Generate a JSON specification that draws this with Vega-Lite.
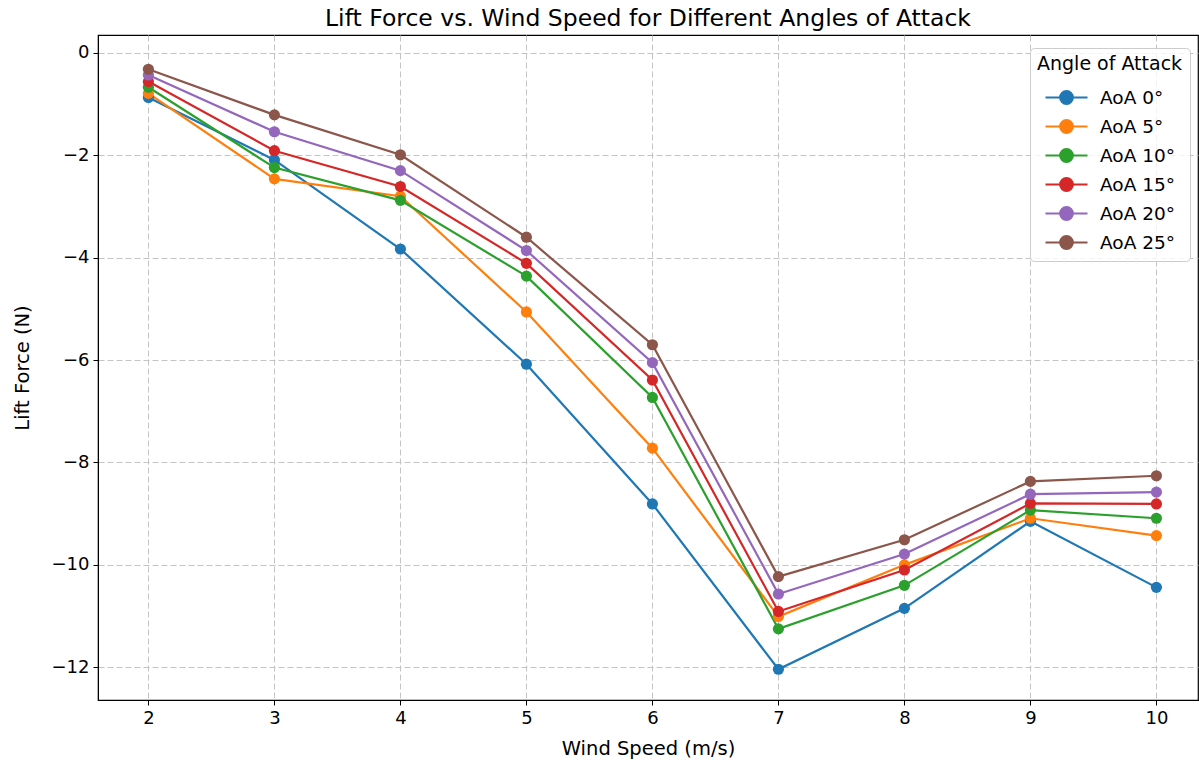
{
  "$schema": "https://vega.github.io/schema/vega-lite/v6.json",
  "autosize": {"type": "none"},
  "padding": {"left": 98, "top": 35, "right": 1, "bottom": 63},
  "width": 1100,
  "height": 665,
  "background": "white",
  "title": {"text": "Lift Force vs. Wind Speed for Different Angles of Attack", "font": "DejaVu Sans", "fontSize": 23.5, "fontWeight": "normal", "color": "black", "anchor": "middle", "offset": 5},
  "config": {
    "view": {"stroke": "black", "strokeWidth": 1.2},
    "axis": {"labelFont": "DejaVu Sans", "titleFont": "DejaVu Sans", "labelFontSize": 18, "titleFontSize": 19.5, "titleFontWeight": "normal", "labelColor": "black", "titleColor": "black", "domainColor": "black", "tickColor": "black", "tickSize": 5, "labelPadding": 4, "gridColor": "#c4c4c4", "gridDash": [6, 3], "gridWidth": 1}
  },
  "data": {"values": [
    {"speed": 2, "aoa": "AoA 0°", "lift": -0.87}, {"speed": 3, "aoa": "AoA 0°", "lift": -2.09}, {"speed": 4, "aoa": "AoA 0°", "lift": -3.83}, {"speed": 5, "aoa": "AoA 0°", "lift": -6.08}, {"speed": 6, "aoa": "AoA 0°", "lift": -8.81}, {"speed": 7, "aoa": "AoA 0°", "lift": -12.04}, {"speed": 8, "aoa": "AoA 0°", "lift": -10.85}, {"speed": 9, "aoa": "AoA 0°", "lift": -9.15}, {"speed": 10, "aoa": "AoA 0°", "lift": -10.44},
    {"speed": 2, "aoa": "AoA 5°", "lift": -0.79}, {"speed": 3, "aoa": "AoA 5°", "lift": -2.46}, {"speed": 4, "aoa": "AoA 5°", "lift": -2.8}, {"speed": 5, "aoa": "AoA 5°", "lift": -5.06}, {"speed": 6, "aoa": "AoA 5°", "lift": -7.72}, {"speed": 7, "aoa": "AoA 5°", "lift": -11.01}, {"speed": 8, "aoa": "AoA 5°", "lift": -10.0}, {"speed": 9, "aoa": "AoA 5°", "lift": -9.09}, {"speed": 10, "aoa": "AoA 5°", "lift": -9.43},
    {"speed": 2, "aoa": "AoA 10°", "lift": -0.67}, {"speed": 3, "aoa": "AoA 10°", "lift": -2.24}, {"speed": 4, "aoa": "AoA 10°", "lift": -2.88}, {"speed": 5, "aoa": "AoA 10°", "lift": -4.36}, {"speed": 6, "aoa": "AoA 10°", "lift": -6.73}, {"speed": 7, "aoa": "AoA 10°", "lift": -11.25}, {"speed": 8, "aoa": "AoA 10°", "lift": -10.4}, {"speed": 9, "aoa": "AoA 10°", "lift": -8.93}, {"speed": 10, "aoa": "AoA 10°", "lift": -9.09},
    {"speed": 2, "aoa": "AoA 15°", "lift": -0.56}, {"speed": 3, "aoa": "AoA 15°", "lift": -1.91}, {"speed": 4, "aoa": "AoA 15°", "lift": -2.61}, {"speed": 5, "aoa": "AoA 15°", "lift": -4.11}, {"speed": 6, "aoa": "AoA 15°", "lift": -6.39}, {"speed": 7, "aoa": "AoA 15°", "lift": -10.91}, {"speed": 8, "aoa": "AoA 15°", "lift": -10.1}, {"speed": 9, "aoa": "AoA 15°", "lift": -8.8}, {"speed": 10, "aoa": "AoA 15°", "lift": -8.81},
    {"speed": 2, "aoa": "AoA 20°", "lift": -0.43}, {"speed": 3, "aoa": "AoA 20°", "lift": -1.54}, {"speed": 4, "aoa": "AoA 20°", "lift": -2.3}, {"speed": 5, "aoa": "AoA 20°", "lift": -3.86}, {"speed": 6, "aoa": "AoA 20°", "lift": -6.05}, {"speed": 7, "aoa": "AoA 20°", "lift": -10.57}, {"speed": 8, "aoa": "AoA 20°", "lift": -9.79}, {"speed": 9, "aoa": "AoA 20°", "lift": -8.62}, {"speed": 10, "aoa": "AoA 20°", "lift": -8.58},
    {"speed": 2, "aoa": "AoA 25°", "lift": -0.32}, {"speed": 3, "aoa": "AoA 25°", "lift": -1.21}, {"speed": 4, "aoa": "AoA 25°", "lift": -1.99}, {"speed": 5, "aoa": "AoA 25°", "lift": -3.6}, {"speed": 6, "aoa": "AoA 25°", "lift": -5.7}, {"speed": 7, "aoa": "AoA 25°", "lift": -10.23}, {"speed": 8, "aoa": "AoA 25°", "lift": -9.51}, {"speed": 9, "aoa": "AoA 25°", "lift": -8.37}, {"speed": 10, "aoa": "AoA 25°", "lift": -8.26}
  ]},
  "encoding": {
    "x": {"field": "speed", "type": "quantitative", "title": "Wind Speed (m/s)", "scale": {"domain": [1.6, 10.33], "nice": false, "zero": false}, "axis": {"values": [2, 3, 4, 5, 6, 7, 8, 9, 10], "titlePadding": 12, "grid": true}},
    "y": {"field": "lift", "type": "quantitative", "title": "Lift Force (N)", "scale": {"domain": [-12.64, 0.35], "nice": false, "zero": false}, "axis": {"values": [0, -2, -4, -6, -8, -10, -12], "titlePadding": 19, "grid": true}},
    "color": {"field": "aoa", "type": "nominal", "sort": ["AoA 0°", "AoA 5°", "AoA 10°", "AoA 15°", "AoA 20°", "AoA 25°"],
      "scale": {"domain": ["AoA 0°", "AoA 5°", "AoA 10°", "AoA 15°", "AoA 20°", "AoA 25°"], "range": ["#1f77b4", "#ff7f0e", "#2ca02c", "#d62728", "#9467bd", "#8c564b"]},
      "legend": {"title": "Angle of Attack", "orient": "none", "legendX": 932, "legendY": 13, "titleFont": "DejaVu Sans", "labelFont": "DejaVu Sans", "titleFontSize": 19, "labelFontSize": 18.5, "titleFontWeight": "normal", "titleColor": "black", "labelColor": "black", "titlePadding": 8, "fillColor": "rgba(255,255,255,0.8)", "strokeColor": "#cccccc", "cornerRadius": 4, "padding": 7, "rowPadding": 2, "symbolType": "M-1.5,0H1.5M-0.45,0A0.45,0.45,0,1,0,0.45,0A0.45,0.45,0,1,0,-0.45,0Z", "symbolSize": 784, "symbolStrokeWidth": 2.2, "symbolOffset": 14, "labelOffset": 18,
        "encode": {"symbols": {"update": {"stroke": {"scale": "color", "field": "value"}, "fill": {"scale": "color", "field": "value"}, "opacity": {"value": 1}}}}}
    }
  },
  "layer": [
    {"mark": {"type": "line", "strokeWidth": 2.2}},
    {"mark": {"type": "point", "filled": true, "size": 125, "opacity": 1}}
  ]
}
